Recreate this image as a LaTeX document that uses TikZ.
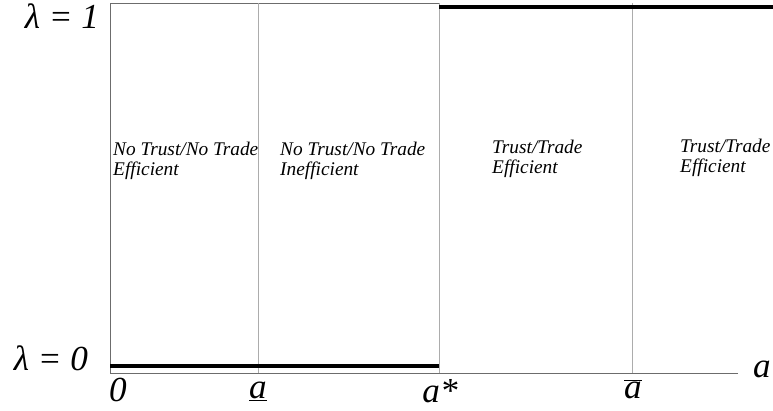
\documentclass[tikz,border=0pt]{standalone}
\usepackage{fontspec}
\setmainfont{Liberation Serif}

\begin{document}
\begin{tikzpicture}[
  x=0.03cm, y=-0.03cm,
  axis/.style={draw=gray!85!black, line width=0.8pt},
  divider/.style={draw=gray!65, line width=0.5pt},
  bold line/.style={draw=black, line width=3.4pt},
  region/.style={font=\fontsize{16.5}{17}\selectfont\itshape, align=left, anchor=base west, inner sep=0pt},
  big/.style={font=\fontsize{30}{34}\selectfont\itshape, inner sep=0pt, anchor=base}
]
\useasboundingbox (0,0) rectangle (773,410);

% axes and frame
\coordinate (origin) at (110,373);
\coordinate (ytop) at (110,3);
\coordinate (xend) at (738,373);
\coordinate (astar top) at (439,3);
\draw[axis] (xend) -- (origin) -- (ytop) -- (astar top);

% dividers
\foreach \name/\x in {alow/258, astar/439, ahigh/632} {
  \coordinate (\name) at (\x,373);
  \coordinate (\name top) at (\x,3);
  \draw[divider] (\name) -- (\name top);
}

% equilibrium lambda
\coordinate (low start) at (110,366);
\coordinate (low end) at (439,366);
\coordinate (high start) at (439,7);
\coordinate (high end) at (773,7);
\draw[bold line] (low start) -- (low end);
\draw[bold line] (high start) -- (high end);

% axis labels
\node[big] (lam1) at (62,28) {λ = 1};
\node[big] (lam0) at (51,370) {λ = 0};
\node[big] (xlabel) at (762,377) {a};
\node[big] (zero) at (118,401) {0};
\node[big] (alowlab) at (258,398) {\underline{a}};
\node[big] (astarlab) at (440,402) {a*};
\node[big] (ahighlab) at (633,398) {$\overline{\mbox{\itshape a}}$};

% regions (base = last line)
\node[region] (r1) at (113,175) {No Trust/No Trade\\Efficient};
\node[region] (r2) at (280,175) {No Trust/No Trade\\Inefficient};
\node[region] (r3) at (492,173) {Trust/Trade\\Efficient};
\node[region] (r4) at (680,172) {Trust/Trade\\Efficient};

\end{tikzpicture}
\end{document}
